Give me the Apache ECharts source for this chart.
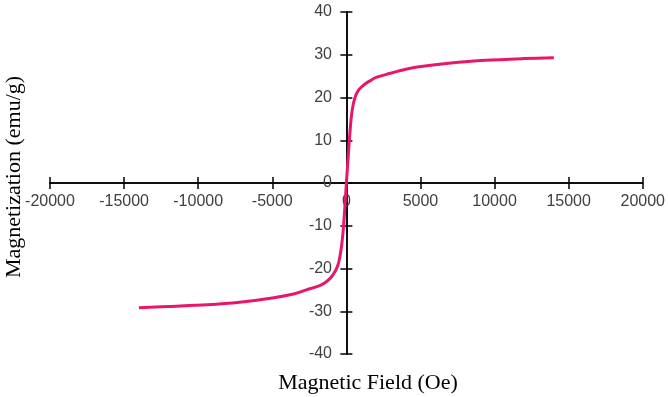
<!DOCTYPE html>
<html>
<head>
<meta charset="utf-8">
<script src="https://cdn.jsdelivr.net/npm/echarts@6/dist/echarts.min.js"></script>
<style>
  html, body { margin: 0; padding: 0; background: #fff; }
  #chart { width: 668px; height: 397px; }
</style>
</head>
<body>
<div id="chart"></div>
<script>
// applied field (Oe) and magnetization (emu/g)
const field = [
  -14000, -12000, -9400, -7200, -5000, -3500, -2700, -1800, -1400, -1150, -950, -800, -700, -600,
  -500, -400, -300, -200, -100, 0, 100, 200, 280, 350, 450, 550, 650, 800, 1000, 1350,
  1700, 2000, 2900, 4000, 4900, 6900, 9400, 12000, 14000
]
const magnetization = [
  -29.2, -28.9, -28.5, -27.9, -26.9, -25.9, -25.0, -24.0, -23.2, -22.5, -21.7, -20.9, -20.3, -19.5,
  -18.3, -16.5, -14.0, -10.5, -5.5, 0, 5.0, 10.0, 13.5, 16.0, 18.2, 19.6, 20.6, 21.6, 22.4, 23.4,
  24.1, 24.7, 25.6, 26.6, 27.2, 28.0, 28.7, 29.1, 29.3
]

const xTitle = 'Magnetic Field (Oe)'
const yTitle = 'Magnetization (emu/g)'

const lineColor = '#e8176c'
const axisColor = '#000'
const labelColor = '#404040'
const labelFont = 'Liberation Sans'

const chart = echarts.init(document.getElementById('chart'), null, { renderer: 'canvas' })

const gridBox = { left: 50, right: 24, top: 12, bottom: 43 }

// v6 keeps tick labels at the grid edge even when the line sits on zero,
// so the margins pull them back onto the crossing axes
const baseX = {
  type: 'value',
  min: -20000,
  max: 20000,
  interval: 5000,
  splitLine: { show: false },
  axisLine: { onZero: true, onZeroAxisIndex: 0, lineStyle: { color: axisColor, width: 1.5 } }
}
const baseY = {
  type: 'value',
  min: -40,
  max: 40,
  interval: 10,
  splitLine: { show: false },
  axisLine: { onZero: true, onZeroAxisIndex: 0, lineStyle: { color: axisColor, width: 1.5 } }
}

const option = {
  animation: false,
  backgroundColor: '#fff',
  grid: gridBox,
  xAxis: [
    {
      ...baseX,
      position: 'bottom',
      axisTick: { show: true, length: 6, lineStyle: { color: axisColor, width: 1.5 } },
      axisLabel: {
        color: labelColor, fontSize: 16, fontFamily: labelFont, margin: -160,
        formatter: v => String(v)
      }
    },
    {
      ...baseX,
      position: 'bottom',
      axisTick: { show: true, inside: true, length: 6, lineStyle: { color: axisColor, width: 1.5 } },
      axisLabel: { show: false }
    }
  ],
  yAxis: [
    {
      ...baseY,
      position: 'left',
      axisTick: { show: true, length: 6, lineStyle: { color: axisColor, width: 1.5 } },
      axisLabel: {
        color: labelColor, fontSize: 16, fontFamily: labelFont, margin: -282,
        formatter: v => String(v)
      }
    },
    {
      ...baseY,
      position: 'left',
      axisTick: { show: true, inside: true, length: 6, lineStyle: { color: axisColor, width: 1.5 } },
      axisLabel: { show: false }
    }
  ],
  graphic: [
    {
      type: 'text',
      x: 368,
      y: 383,
      style: {
        text: xTitle, fill: '#000', font: '22px "Liberation Serif"',
        align: 'center', verticalAlign: 'middle'
      }
    },
    {
      type: 'text',
      x: 14,
      y: 177,
      rotation: Math.PI / 2,
      style: {
        text: yTitle, fill: '#000', font: '22px "Liberation Serif"',
        align: 'center', verticalAlign: 'middle'
      }
    }
  ],
  series: [
    {
      type: 'line',
      data: field.map((f, i) => [f, magnetization[i]]),
      smooth: 0.3,
      showSymbol: false,
      lineStyle: { color: lineColor, width: 3 },
      z: 1
    }
  ]
}

chart.setOption(option)
</script>
</body>
</html>
